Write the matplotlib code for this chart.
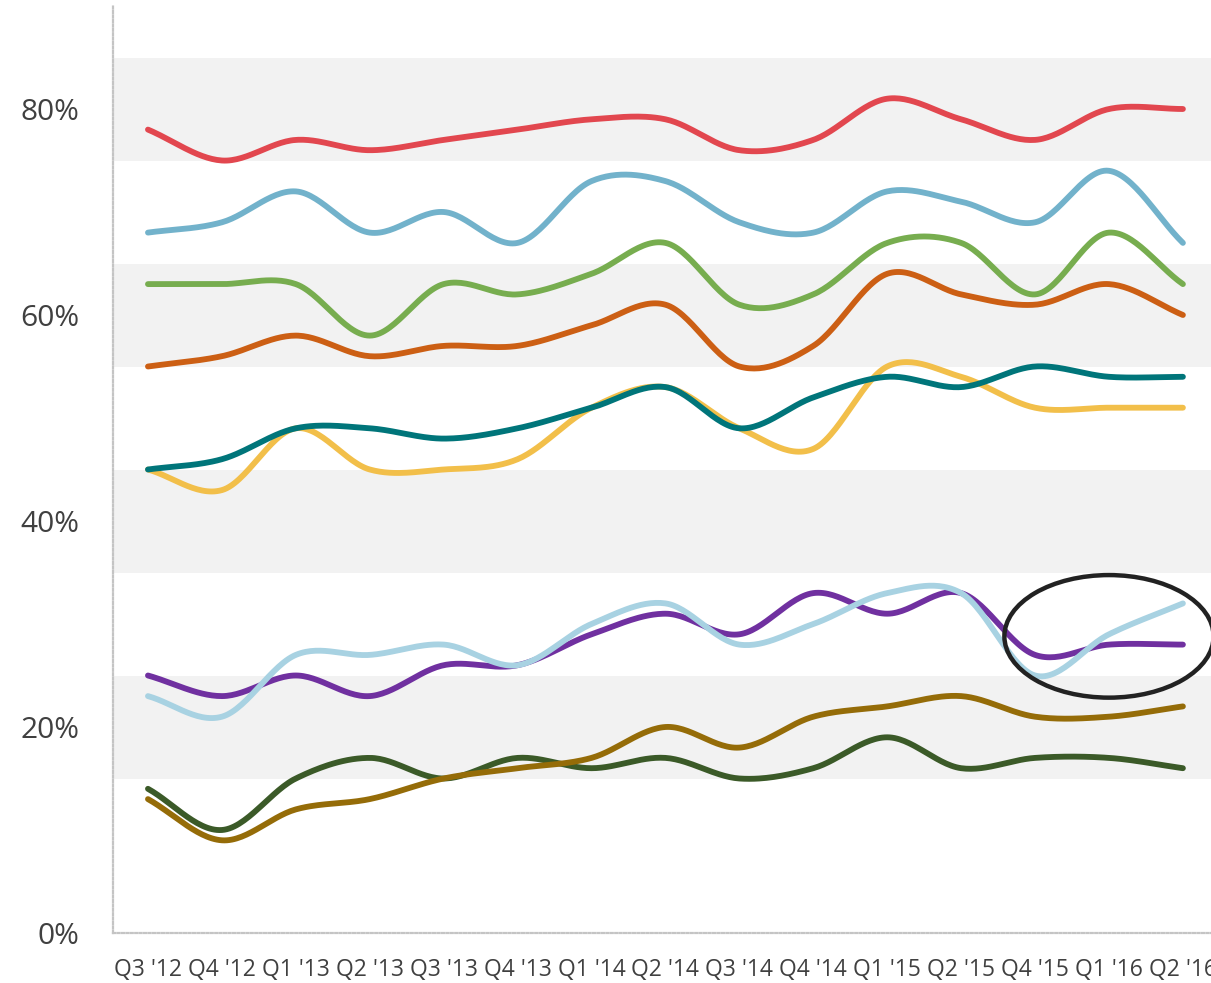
import numpy as np
import matplotlib
matplotlib.use("Agg")
import matplotlib.pyplot as plt
from matplotlib.patches import Ellipse

quarters = ["Q3 '12", "Q4 '12", "Q1 '13", "Q2 '13", "Q3 '13", "Q4 '13", "Q1 '14",
            "Q2 '14", "Q3 '14", "Q4 '14", "Q1 '15", "Q2 '15", "Q4 '15", "Q1 '16", "Q2 '16"]

red_vals        = [78, 75, 77, 76, 77, 78, 79, 79, 76, 77, 81, 79, 77, 80, 80]
blue_vals       = [68, 69, 72, 68, 70, 67, 73, 73, 69, 68, 72, 71, 69, 74, 67]
green_vals      = [63, 63, 63, 58, 63, 62, 64, 67, 61, 62, 67, 67, 62, 68, 63]
orange_vals     = [55, 56, 58, 56, 57, 57, 59, 61, 55, 57, 64, 62, 61, 63, 60]
yellow_vals     = [45, 43, 49, 45, 45, 46, 51, 53, 49, 47, 55, 54, 51, 51, 51]
teal_vals       = [45, 46, 49, 49, 48, 49, 51, 53, 49, 52, 54, 53, 55, 54, 54]
purple_vals     = [25, 23, 25, 23, 26, 26, 29, 31, 29, 33, 31, 33, 27, 28, 28]
lightblue_vals  = [23, 21, 27, 27, 28, 26, 30, 32, 28, 30, 33, 33, 25, 29, 32]
darkgreen_vals  = [14, 10, 15, 17, 15, 17, 16, 17, 15, 16, 19, 16, 17, 17, 16]
brown_vals      = [13, 9, 12, 13, 15, 16, 17, 20, 18, 21, 22, 23, 21, 21, 22]

series = [
    (red_vals, "#e2474f"),
    (blue_vals, "#72b2cb"),
    (green_vals, "#77ad4f"),
    (orange_vals, "#cc5f14"),
    (yellow_vals, "#f2bf4a"),
    (teal_vals, "#00757a"),
    (purple_vals, "#7030a0"),
    (lightblue_vals, "#a8d2e2"),
    (darkgreen_vals, "#3b5a28"),
    (brown_vals, "#956c08"),
]

y_ticks = [0, 20, 40, 60, 80]
y_ticklabels = ["0%", "20%", "40%", "60%", "80%"]
bands = [(15, 25), (35, 45), (55, 65), (75, 85)]


def smooth(vals, steps=30):
    """Catmull-Rom style smoothing for drawing the line between data points."""
    y = np.asarray(vals, dtype=float)
    n = len(y)
    m = np.empty(n)
    m[1:-1] = (y[2:] - y[:-2]) / 2.0
    m[0] = y[1] - y[0]
    m[-1] = y[-1] - y[-2]
    xs, ys = [], []
    t = np.linspace(0, 1, steps, endpoint=False)
    h00 = 2 * t**3 - 3 * t**2 + 1
    h10 = t**3 - 2 * t**2 + t
    h01 = -2 * t**3 + 3 * t**2
    h11 = t**3 - t**2
    for i in range(n - 1):
        xs.append(i + t)
        ys.append(h00 * y[i] + h10 * m[i] + h01 * y[i + 1] + h11 * m[i + 1])
    xs.append(np.array([n - 1.0]))
    ys.append(np.array([y[-1]]))
    return np.concatenate(xs), np.concatenate(ys)


plt.rcParams['font.family'] = ['Open Sans', 'DejaVu Sans']

fig = plt.figure(figsize=(12.11, 9.83), dpi=100)
ax = fig.add_axes([113 / 1211, 50 / 983, (1211 - 113) / 1211, 927 / 983])
ax.set_xlim(-0.473, 14.38)
ax.set_ylim(0, 90)

for lo, hi in bands:
    ax.axhspan(lo, hi, color="#f2f2f2", lw=0, zorder=0)

for vals, col in series:
    xs, ys = smooth(vals)
    ax.plot(xs, ys, color=col, lw=4.2, solid_capstyle="round", zorder=3)

ax.add_patch(Ellipse((13, 28.8), 2.83, 11.9, fill=False, lw=3.2,
                     ec="#222222", zorder=4, clip_on=False))

for s in ["top", "right"]:
    ax.spines[s].set_visible(False)
for s in ["left", "bottom"]:
    ax.spines[s].set_color("#c4c4c4")
    ax.spines[s].set_linewidth(1.6)
    ax.spines[s].set_linestyle((0, (0.9, 1.1)))

ax.set_yticks(y_ticks)
ax.set_yticklabels(y_ticklabels, fontsize=21.5, color="#404040")
ax.set_xticks(range(len(quarters)))
ax.set_xticklabels(quarters, fontsize=16.5, color="#404040")
ax.tick_params(axis="y", length=0, pad=24)
ax.tick_params(axis="x", length=0, pad=18)

fig.savefig("out.png", dpi=100)
